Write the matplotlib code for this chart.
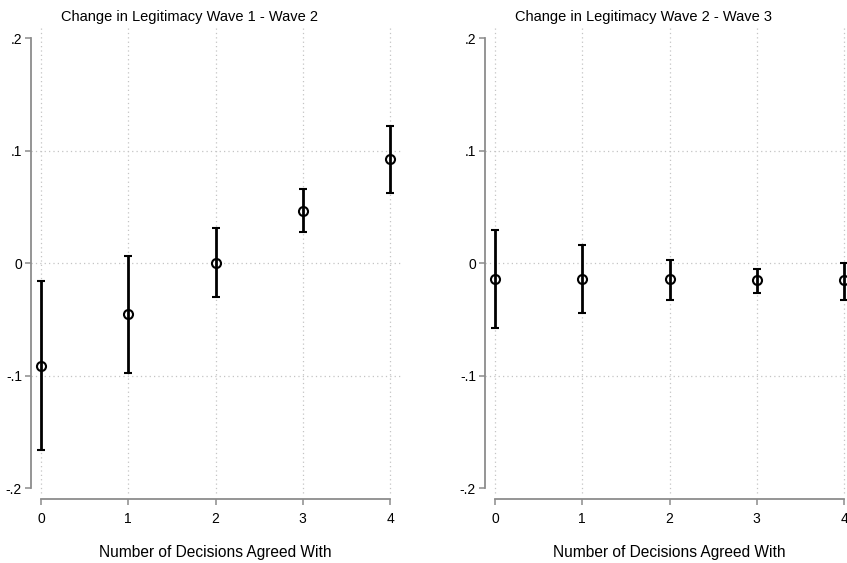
"""
    Change in legitimacy by number of decisions agreed with
"""
import numpy as np
import matplotlib
matplotlib.use('Agg')
import matplotlib.pyplot as plt

decisions = [0, 1, 2, 3, 4]

# wave 1 - wave 2
est1 = [-0.0919, -0.0456, 0.0, 0.0463, 0.0923]
lo1 = [-0.1666, -0.0979, -0.0302, 0.0276, 0.0626]
hi1 = [-0.0163, 0.0066, 0.0315, 0.0656, 0.1219]

# wave 2 - wave 3
est2 = [-0.0139, -0.0140, -0.0145, -0.0150, -0.0155]
lo2 = [-0.0575, -0.0448, -0.0332, -0.0263, -0.0332]
hi2 = [0.0297, 0.0157, 0.0030, -0.0050, 0.0003]

titles = ['Change in Legitimacy Wave 1 - Wave 2', 'Change in Legitimacy Wave 2 - Wave 3']
yticks = [-0.2, -0.1, 0.0, 0.1, 0.2]
ytick_labels = ['-.2', '-.1', '0', '.1', '.2']
ygrid = [-0.1, 0.0, 0.1]
xlabel = 'Number of Decisions Agreed With'

plt.rcParams.update({'font.family': 'Liberation Sans', 'font.size': 10})

W, H = 847, 563
fig = plt.figure(figsize=(W / 100, H / 100), dpi=100)

spine_col = '#8c8c8c'
grid_col = '#c4c4c4'
panels = [(est1, lo1, hi1), (est2, lo2, hi2)]
offsets = [0, 454]  # pixel shift of the second panel

for i, (est, lo, hi) in enumerate(panels):
    dx = offsets[i]
    left = (31 + dx) / W
    right = (402 + dx) / W
    bottom = (H - 499) / H
    top = (H - 28) / H
    ax = fig.add_axes([left, bottom, right - left, top - bottom])

    # x: 0 -> 41px, 4 -> 390px ; y: .2 -> 38px, -.2 -> 488px
    xs = (390 - 41) / 4.0
    ys = (488 - 38) / 0.4
    ax.set_xlim(-10 / xs, 4 + 12 / xs)
    ax.set_ylim(-0.2 - 11 / ys, 0.2 + 10 / ys)

    # dotted grid (Stata leaves out the outer y lines)
    for g in ygrid:
        ax.axhline(g, color=grid_col, linestyle=(0, (1, 2.5)), linewidth=0.9, zorder=0)
    ax.vlines(decisions, -0.2 - 5 / ys, 0.2 + 10 / ys, colors=grid_col,
              linestyles=[(0, (1, 2.5))], linewidth=0.9, zorder=0)

    est = np.array(est)
    yerr = np.vstack([est - np.array(lo), np.array(hi) - est])
    ax.errorbar(decisions, est, yerr=yerr, fmt='o', color='black', ecolor='black',
                elinewidth=2.0, capsize=2.6, capthick=1.6,
                markersize=6.5, markerfacecolor='none', markeredgewidth=1.5, zorder=3)

    for s in ['top', 'right']:
        ax.spines[s].set_visible(False)
    ax.spines['left'].set_bounds(-0.2, 0.2)
    ax.spines['bottom'].set_bounds(0, 4)
    for s in ['left', 'bottom']:
        ax.spines[s].set_color(spine_col)
        ax.spines[s].set_linewidth(1.3)

    ax.set_xticks(decisions)
    ax.set_xticklabels([str(d) for d in decisions])
    ax.set_yticks(yticks)
    ax.set_yticklabels(ytick_labels)
    ax.tick_params(axis='both', colors=spine_col, length=4.5, width=1.1, labelcolor='black', labelsize=10)
    ax.tick_params(axis='x', pad=5)
    ax.tick_params(axis='y', pad=2)

    fig.text((189 + dx) / W, 1 - 17 / H, titles[i], ha='center', va='center', fontsize=10.5)
    fig.text((215 + dx) / W, 1 - 553 / H, xlabel, ha='center', va='center', fontsize=11.2)

plt.savefig('out.png', dpi=100)
